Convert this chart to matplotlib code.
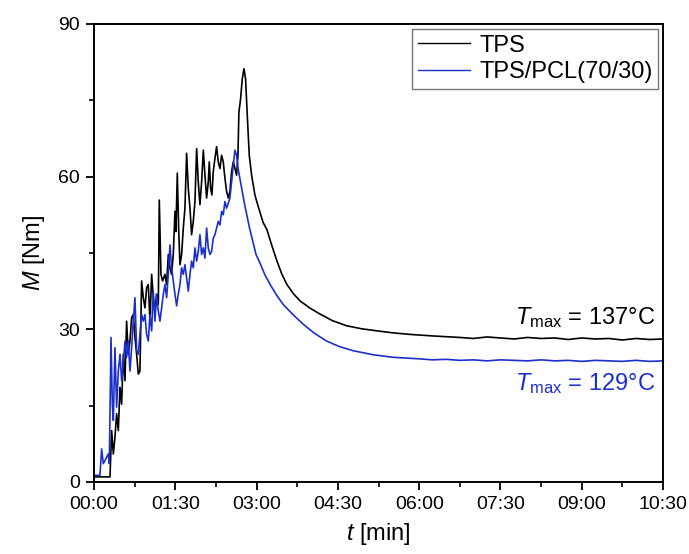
import matplotlib
matplotlib.use("Agg")
import matplotlib.pyplot as plt
from matplotlib.ticker import MultipleLocator, FuncFormatter

plt.rcParams['font.family'] = ['Liberation Sans', 'DejaVu Sans']
plt.rcParams['mathtext.fontset'] = 'custom'
plt.rcParams['mathtext.rm'] = 'Liberation Sans'
plt.rcParams['mathtext.it'] = 'Liberation Sans:italic'

# time in minutes, torque M in Nm
tps_t = [0.0, 0.295, 0.326, 0.357, 0.387, 0.418, 0.449, 0.480, 0.510, 0.541, 0.572,
         0.602, 0.633, 0.664, 0.695, 0.725, 0.756, 0.787, 0.818, 0.848, 0.879, 0.910,
         0.941, 0.971, 1.002, 1.033, 1.064, 1.094, 1.125, 1.156, 1.187, 1.205, 1.236,
         1.266, 1.310, 1.340, 1.371, 1.402, 1.432, 1.463, 1.494, 1.512, 1.537, 1.562,
         1.586, 1.617, 1.648, 1.678, 1.709, 1.740, 1.771, 1.801, 1.832, 1.863, 1.894,
         1.924, 1.955, 1.986, 2.017, 2.047, 2.078, 2.109, 2.127, 2.152, 2.176, 2.201,
         2.232, 2.262, 2.293, 2.324, 2.355, 2.385, 2.416, 2.447, 2.478, 2.508, 2.539,
         2.570, 2.601, 2.631, 2.656, 2.674, 2.705, 2.736, 2.767, 2.797, 2.828, 2.865,
         2.908, 2.969, 3.031, 3.12, 3.19, 3.28, 3.37, 3.46, 3.56, 3.68, 3.80, 3.98,
         4.17, 4.40, 4.66, 4.94, 5.22, 5.52, 5.83, 6.25, 6.75, 7.00, 7.25, 7.50, 7.75,
         8.00, 8.25, 8.50, 8.75, 9.00, 9.25, 9.50, 9.75, 10.00, 10.25, 10.50]
tps_m = [1.0, 1.0, 10.1, 5.5, 8.8, 13.4, 10.1, 18.6, 15.3, 25.1, 19.9,
         31.6, 25.1, 27.7, 32.3, 32.9, 28.4, 25.1, 21.2, 21.8, 39.5, 36.2,
         34.2, 38.2, 38.8, 31.6, 40.8, 36.2, 33.6, 36.9, 34.9, 55.4, 40.8,
         39.5, 40.8, 38.8, 44.7, 42.1, 40.8, 44.7, 53.2, 49.2, 60.7, 49.9,
         42.7, 44.7, 49.9, 53.8, 64.6, 57.7, 53.8, 48.6, 51.2, 55.1, 65.5,
         59.0, 54.5, 59.0, 65.2, 60.3, 55.8, 59.0, 62.9, 57.7, 56.4, 61.0,
         63.6, 65.9, 62.9, 61.6, 64.2, 62.9, 59.7, 57.1, 55.8, 57.1, 61.0,
         62.9, 61.6, 60.3, 64.2, 72.7, 75.3, 79.2, 81.2, 79.2, 72.1, 64.2,
         60.3, 56.4, 54.1, 51.0, 49.6, 46.5, 43.6, 41.0, 38.8, 37.0, 35.6, 34.2,
         33.0, 31.7, 30.7, 30.1, 29.7, 29.3, 29.0, 28.7, 28.4, 28.2, 28.5, 28.3, 28.1,
         28.4, 28.2, 28.3, 28.0, 28.3, 28.1, 28.2, 27.9, 28.2, 28.0, 28.1]

pcl_t = [0.0, 0.110, 0.141, 0.172, 0.203, 0.234, 0.264, 0.283, 0.314, 0.338, 0.357,
         0.387, 0.418, 0.449, 0.480, 0.510, 0.541, 0.572, 0.602, 0.633, 0.664, 0.695,
         0.725, 0.756, 0.787, 0.818, 0.848, 0.879, 0.910, 0.941, 0.971, 1.002, 1.033,
         1.064, 1.094, 1.125, 1.156, 1.187, 1.217, 1.248, 1.279, 1.310, 1.340, 1.371,
         1.402, 1.432, 1.463, 1.494, 1.525, 1.555, 1.586, 1.617, 1.648, 1.678, 1.709,
         1.740, 1.771, 1.801, 1.832, 1.863, 1.894, 1.924, 1.955, 1.986, 2.017, 2.047,
         2.078, 2.109, 2.140, 2.170, 2.201, 2.232, 2.262, 2.293, 2.324, 2.355, 2.385,
         2.416, 2.447, 2.478, 2.508, 2.539, 2.570, 2.601, 2.631, 2.66, 2.72, 2.78,
         2.87, 2.99, 3.06, 3.15, 3.25, 3.37, 3.49, 3.67, 3.86, 4.07, 4.29, 4.53, 4.78,
         5.15, 5.52, 6.00, 6.25, 6.50, 6.75, 7.00, 7.25, 7.50, 7.75, 8.00, 8.25, 8.50,
         8.75, 9.00, 9.25, 9.50, 9.75, 10.00, 10.25, 10.50]
pcl_m = [1.3, 1.3, 6.5, 3.6, 4.2, 4.9, 5.5, 3.6, 28.4, 15.3, 12.1,
         26.4, 14.7, 21.8, 25.1, 19.9, 23.2, 27.7, 24.5, 27.7, 21.8, 26.4,
         31.6, 36.2, 25.8, 25.1, 29.0, 32.9, 31.6, 32.9, 29.0, 27.7, 32.9,
         29.7, 37.5, 31.6, 36.9, 33.6, 31.6, 34.2, 36.9, 38.8, 36.2, 40.8,
         46.6, 42.1, 39.5, 36.9, 34.6, 36.9, 38.8, 42.1, 40.8, 42.7, 40.1,
         37.5, 40.8, 43.4, 42.1, 46.0, 43.4, 45.3, 48.6, 44.7, 46.0, 44.0,
         49.9, 46.0, 44.7, 45.3, 47.9, 48.6, 49.9, 51.2, 50.5, 53.2, 52.5,
         55.1, 53.8, 54.8, 55.8, 59.0, 62.3, 65.2, 64.2, 61.5, 58.0, 54.5,
         49.9, 44.7, 43.1, 40.8, 38.8, 36.7, 34.9, 32.9, 31.0, 29.2, 27.7, 26.6, 25.8,
         25.0, 24.5, 24.2, 24.0, 24.1, 23.9, 24.0, 23.8, 24.0, 23.9, 23.8, 24.0, 23.8,
         23.9, 23.7, 23.9, 23.8, 23.7, 23.9, 23.7, 23.8]

series_labels = ["TPS", "TPS/PCL(70/30)"]
x_ticks = [0, 1.5, 3, 4.5, 6, 7.5, 9, 10.5]
y_ticks = [0, 30, 60, 90]

blue = '#1b2fcc'

fig = plt.figure(figsize=(6.89, 5.54), dpi=100)
ax = fig.add_axes([0.1364, 0.130, 0.826, 0.8267])

ax.plot(tps_t, tps_m, color='black', lw=1.2, label=series_labels[0])
ax.plot(pcl_t, pcl_m, color=blue, lw=1.2, label=series_labels[1])

ax.set_xlim(0, 10.5)
ax.set_ylim(0, 90)
ax.set_xticks(x_ticks)
ax.set_yticks(y_ticks)
ax.xaxis.set_minor_locator(MultipleLocator(0.75))
ax.yaxis.set_minor_locator(MultipleLocator(15))

def mmss(v, pos):
    total = int(round(v * 60))
    return f"{total // 60:02d}:{total % 60:02d}"
ax.xaxis.set_major_formatter(FuncFormatter(mmss))

ax.tick_params(which='major', direction='out', length=6, width=1.3, labelsize=14, pad=4)
ax.tick_params(which='minor', direction='out', length=3.5, width=1.2)
for s in ax.spines.values():
    s.set_linewidth(1.4)

ax.set_xlabel(r"$t$ [min]", fontsize=17, labelpad=6)
ax.set_ylabel(r"$M$ [Nm]", fontsize=17, labelpad=8)

ax.text(10.35, 32.4, r"$T_{\mathrm{max}}$ = 137°C", fontsize=17, ha='right', va='center', color='black')
ax.text(10.35, 19.3, r"$T_{\mathrm{max}}$ = 129°C", fontsize=17, ha='right', va='center', color=blue)

leg = ax.legend(loc='upper right', fontsize=17, frameon=True, fancybox=False,
                edgecolor='#555555', handlelength=2.2, handletextpad=0.4,
                borderpad=0.25, labelspacing=0.2, borderaxespad=0.2)
leg.get_frame().set_linewidth(1.0)
for line in leg.get_lines():
    line.set_linewidth(1.0)

fig.savefig("out.png", dpi=100)
